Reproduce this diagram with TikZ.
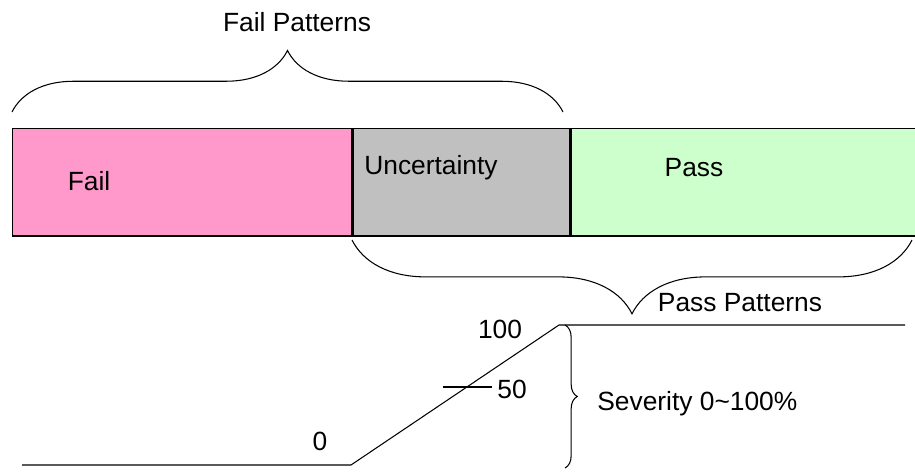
\documentclass[tikz,border=0pt]{standalone}
\usepackage{fontspec}
\setmainfont{Liberation Sans}
\usetikzlibrary{decorations.pathreplacing}
\begin{document}
\begin{tikzpicture}[
  x=0.02cm, y=-0.02cm,
  font=\fontsize{15}{18}\selectfont,
  zone/.style={draw, line width=0.8pt, minimum height=2.14cm, inner sep=0pt, anchor=north west},
  txt/.style={inner sep=0pt},
  brc/.style={decorate, line width=0.6pt},
  crv/.style={line width=0.6pt}
]
\useasboundingbox (0,0) rectangle (915,472);
% zones
\node[zone, fill={rgb,255:red,255;green,153;blue,204}, minimum width=6.78cm] (fail) at (12,128) {};
\node[zone, fill={rgb,255:red,192;green,192;blue,192}, minimum width=4.34cm] (unc) at (fail.north east) {};
\node[zone, fill={rgb,255:red,204;green,255;blue,204}, minimum width=7.2cm] (pass) at (unc.north east) {};
\draw[line width=1.2pt] (fail.south west) -- (pass.south east);
\node[txt] (failtxt) at (89,181) {Fail};
\node[txt] (unctxt) at (431,168) {Uncertainty};
\node[txt] (passtxt) at (694,168) {Pass};
% braces
\coordinate (fl) at (12,112);
\coordinate (fr) at (563,112);
\draw[brc, decoration={brace, amplitude=35pt}] (fl) -- (fr);
\node[txt] (failpat) at (297,22) {Fail Patterns};
\coordinate (pr) at (912,240);
\coordinate (pl) at (352,240);
\draw[brc, decoration={brace, amplitude=42pt}] (pr) -- (pl);
\node[txt] (passpat) at (740,303) {Pass Patterns};
% severity
\coordinate (s0) at (22,465);
\coordinate (s1) at (351,465);
\coordinate (s2) at (559,325);
\coordinate (s3) at (905,325);
\draw[crv] (s0) -- (s1) -- (s2) -- (s3);
\coordinate (t0) at (443,387);
\coordinate (t1) at (492,387);
\draw[crv] (t0) -- (t1);
\node[txt] (zero) at (320,441) {0};
\node[txt] (fifty) at (512,389) {50};
\node[txt] (hundred) at (500,329) {100};
\coordinate (vt) at (565,325);
\coordinate (vb) at (565,468);
\draw[brc, decoration={brace, amplitude=7pt}] (vt) -- (vb);
\node[txt, anchor=west] (sev) at (597,404) {Severity 0\textasciitilde100\%};
\end{tikzpicture}
\end{document}
